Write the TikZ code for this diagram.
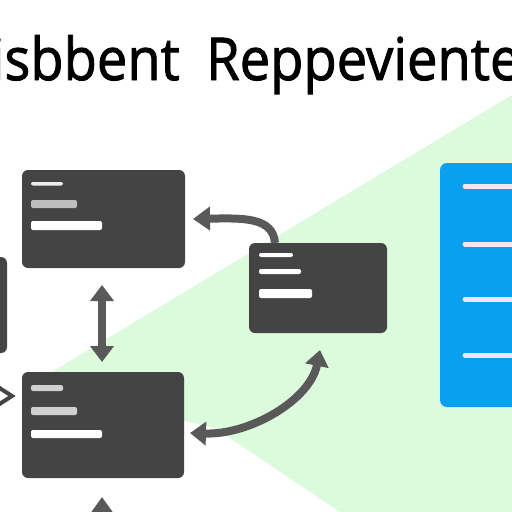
\documentclass[tikz,border=0pt]{standalone}
\usepackage{fontspec}
\newfontfamily\titlefont[FakeBold=1.6]{Open Sans}
\usetikzlibrary{arrows.meta,calc}
\definecolor{boxgray}{HTML}{444444}
\definecolor{arrgray}{HTML}{595959}
\definecolor{bggreen}{HTML}{DCFADC}
\definecolor{panelblue}{HTML}{0AA0F0}
\definecolor{pinkline}{HTML}{F5E4F5}
\definecolor{lgray}{HTML}{BDBDBD}
\definecolor{llgray}{HTML}{D0D0D0}
\begin{document}
\begin{tikzpicture}[x=1pt,y=-1pt,
  box/.style={fill=boxgray, rounded corners=6pt, inner sep=0pt, outer sep=0pt, anchor=north west},
  panel/.style={fill=panelblue, rounded corners=7pt, inner sep=0pt, outer sep=0pt, anchor=north west},
  conn/.style={draw=arrgray, line width=8pt, -{Triangle[length=17pt,width=23pt]}},
  dconn/.style={draw=arrgray, line width=8pt, {Triangle[length=16pt,width=23pt]}-{Triangle[length=16pt,width=23pt]}},
  bar/.style={rounded corners=2pt},
  pbar/.style={draw=pinkline, line width=5pt, line cap=round},
  title/.style={font=\titlefont\fontsize{59}{60}\selectfont, inner sep=0pt, text=black}
]
\useasboundingbox (0,0) rectangle (512,512);
\clip (0,0) rectangle (512,512);
\fill[white] (0,0) rectangle (512,512);
\fill[bggreen] (30,385) -- (512,95) -- (512,512) -- (340,512) -- (215,428) -- cycle;

% title
\node[title, anchor=base east] (t1) at (180,80) {\scalebox{0.92}[1]{isbbent}};
\node[title, anchor=base west] (t2) at (206,80) {\scalebox{0.92}[1]{Reppeviente}};

% boxes
\node[box, minimum width=163pt, minimum height=98pt] (A) at (22,170) {};
\node[box, minimum width=138pt, minimum height=90pt] (B) at (249,243) {};
\node[box, minimum width=162pt, minimum height=106pt] (C) at (22,372) {};
\node[box, minimum width=27pt, minimum height=96pt] (D) at (-20,257) {};
\node[panel, minimum width=95pt, minimum height=244pt] (P) at (440,163) {};

% bars in A
\fill[bar, white!92!black] (31,182) rectangle (63,185.5);
\fill[bar, lgray] (31,200) rectangle (77,208);
\fill[bar, white] (31,221) rectangle (102,230);
% bars in B
\fill[bar, white] (259,253) rectangle (293,257);
\fill[bar, white] (259,269) rectangle (301,274);
\fill[bar, white] (259,289) rectangle (312,298);
% bars in C
\fill[bar, llgray] (31,385) rectangle (63,391);
\fill[bar, llgray] (31,407) rectangle (77,415);
\fill[bar, white] (31,430) rectangle (102,438);
% bars in panel
\draw[pbar] (465,186) -- (530,186);
\draw[pbar] (465,244) -- (530,244);
\draw[pbar] (465,299) -- (530,299);
\draw[pbar] (465,355) -- (530,355);

% connectors
\draw[dconn, shorten <=17pt, shorten >=10pt] ([xshift=-1.5pt]A.south) -- ([xshift=-1pt]C.north);
\draw[conn] ([xshift=-43pt]B.north) .. controls +(-2,-26) and +(50,-1) .. ([xshift=8pt]A.east);
\draw[dconn] ([xshift=6pt,yshift=-8pt]C.east) .. controls +(60,2) and +(-10,50) .. ([xshift=2pt,yshift=-17pt]B.south);
\coordinate (bot) at (102,545);
\draw[conn] (bot) -- ([xshift=-1pt,yshift=-19pt]C.south);
\coordinate (lft) at (-2,387);
\draw[boxgray, line width=4pt] (lft) -- ([xshift=-10pt,yshift=29pt]C.west) -- (-2,405);
\end{tikzpicture}
\end{document}
